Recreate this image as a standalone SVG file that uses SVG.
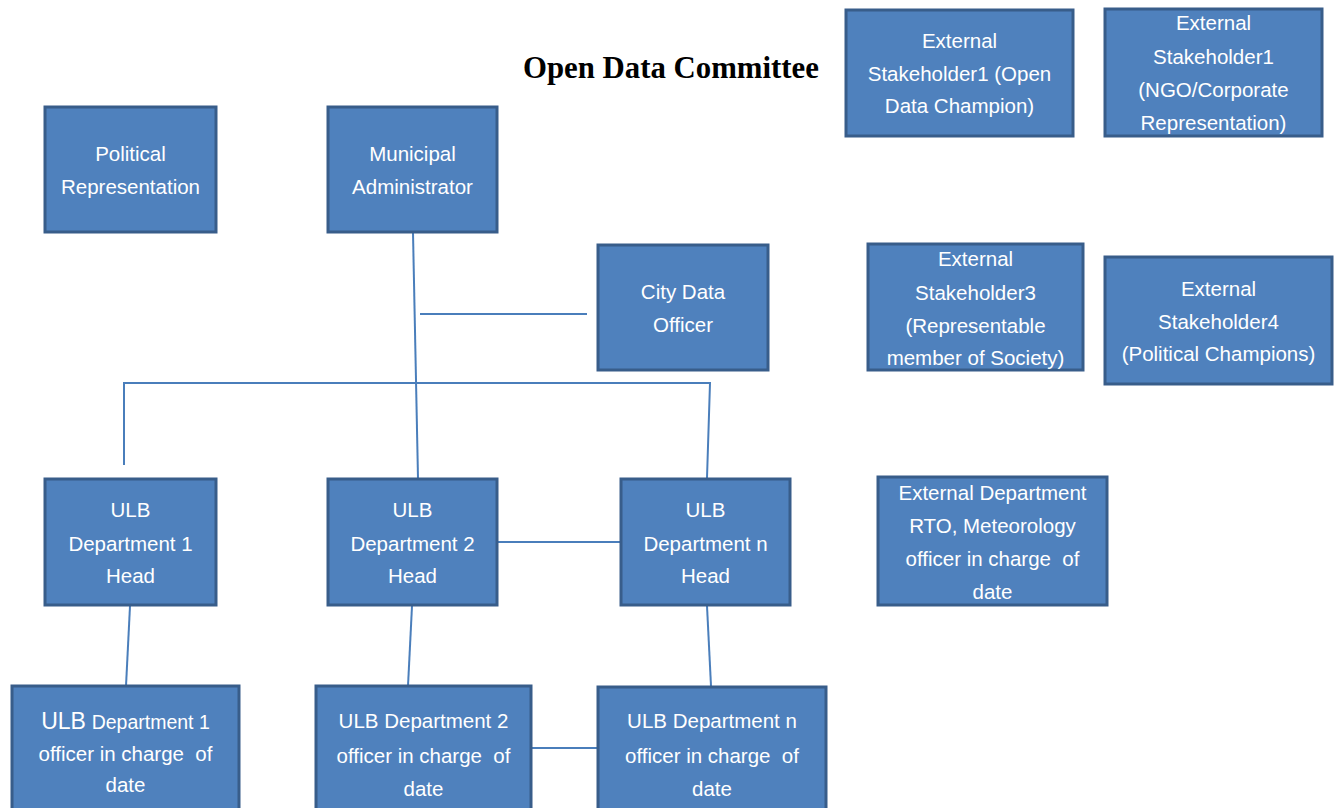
<svg xmlns="http://www.w3.org/2000/svg" width="1337" height="808" viewBox="0 0 1337 808">
<style>
.box{fill:#4F81BD;stroke:#385D8A;stroke-width:3}
.t{font-family:"Liberation Sans",Arial,sans-serif;font-size:20.5px;fill:#FFFFFF;text-anchor:middle;white-space:pre}
.ln{stroke:#4A7EBB;stroke-width:2;fill:none}
.title{font-family:"Liberation Serif","Times New Roman",serif;font-size:30.8px;font-weight:bold;fill:#000}
</style>
<rect width="1337" height="808" fill="#FFFFFF"/>
<text class="title" x="523" y="78">Open Data Committee</text>
<g id="connectors">
<polyline class="ln" points="413,233 418,478"/>
<line class="ln" x1="420" y1="314" x2="587" y2="314"/>
<polyline class="ln" points="124,465 124,383 710,383 707,478"/>
<line class="ln" x1="497" y1="542" x2="621" y2="542"/>
<line class="ln" x1="130" y1="606" x2="126" y2="686"/>
<line class="ln" x1="412" y1="606" x2="408" y2="686"/>
<line class="ln" x1="707" y1="606" x2="711" y2="686"/>
<line class="ln" x1="531" y1="748" x2="598" y2="748"/>
</g>
<g id="political">
<rect class="box" x="45" y="107" width="171" height="125"/>
<text class="t"><tspan x="130.5" y="161">Political</tspan><tspan x="130.5" y="194">Representation</tspan></text>
</g>
<g id="municipal">
<rect class="box" x="328" y="107" width="169" height="125"/>
<text class="t"><tspan x="412.5" y="161">Municipal</tspan><tspan x="412.5" y="194">Administrator</tspan></text>
</g>
<g id="citydata">
<rect class="box" x="598" y="245" width="170" height="125"/>
<text class="t"><tspan x="683" y="299">City Data</tspan><tspan x="683" y="332">Officer</tspan></text>
</g>
<g id="ext1">
<rect class="box" x="846" y="10" width="227" height="126"/>
<text class="t"><tspan x="959.5" y="48">External</tspan><tspan x="959.5" y="81">Stakeholder1 (Open</tspan><tspan x="959.5" y="113">Data Champion)</tspan></text>
</g>
<g id="ext2">
<rect class="box" x="1105" y="9" width="217" height="127"/>
<text class="t"><tspan x="1213.5" y="30">External</tspan><tspan x="1213.5" y="64">Stakeholder1</tspan><tspan x="1213.5" y="97">(NGO/Corporate</tspan><tspan x="1213.5" y="130">Representation)</tspan></text>
</g>
<g id="ext3">
<rect class="box" x="868" y="244" width="215" height="126"/>
<text class="t"><tspan x="975.5" y="266">External</tspan><tspan x="975.5" y="300">Stakeholder3</tspan><tspan x="975.5" y="333">(Representable</tspan><tspan x="975.5" y="365">member of Society)</tspan></text>
</g>
<g id="ext4">
<rect class="box" x="1105" y="257" width="227" height="127"/>
<text class="t"><tspan x="1218.5" y="296">External</tspan><tspan x="1218.5" y="329">Stakeholder4</tspan><tspan x="1218.5" y="361">(Political Champions)</tspan></text>
</g>
<g id="extdept">
<rect class="box" x="878" y="477" width="229" height="128"/>
<text class="t"><tspan x="992.5" y="500">External Department</tspan><tspan x="992.5" y="533">RTO, Meteorology</tspan><tspan x="992.5" y="566">officer in charge  of</tspan><tspan x="992.5" y="599">date</tspan></text>
</g>
<g id="head1">
<rect class="box" x="45" y="479" width="171" height="126"/>
<text class="t"><tspan x="130.5" y="517">ULB</tspan><tspan x="130.5" y="551">Department 1</tspan><tspan x="130.5" y="583">Head</tspan></text>
</g>
<g id="head2">
<rect class="box" x="328" y="479" width="169" height="126"/>
<text class="t"><tspan x="412.5" y="517">ULB</tspan><tspan x="412.5" y="551">Department 2</tspan><tspan x="412.5" y="583">Head</tspan></text>
</g>
<g id="headn">
<rect class="box" x="621" y="479" width="169" height="126"/>
<text class="t"><tspan x="705.5" y="517">ULB</tspan><tspan x="705.5" y="551">Department n</tspan><tspan x="705.5" y="583">Head</tspan></text>
</g>
<g id="officer1">
<rect class="box" x="12" y="686" width="227" height="130"/>
<text class="t"><tspan x="125.5" y="729"><tspan style="font-size:23px">ULB</tspan> <tspan style="font-size:19.5px">Department 1</tspan></tspan><tspan x="125.5" y="761">officer in charge  of</tspan><tspan x="125.5" y="792">date</tspan></text>
</g>
<g id="officer2">
<rect class="box" x="316" y="686" width="215" height="130"/>
<text class="t"><tspan x="423.5" y="728">ULB Department 2</tspan><tspan x="423.5" y="763">officer in charge  of</tspan><tspan x="423.5" y="796">date</tspan></text>
</g>
<g id="officern">
<rect class="box" x="598" y="687" width="228" height="130"/>
<text class="t"><tspan x="712" y="728">ULB Department n</tspan><tspan x="712" y="763">officer in charge  of</tspan><tspan x="712" y="796">date</tspan></text>
</g>
</svg>
